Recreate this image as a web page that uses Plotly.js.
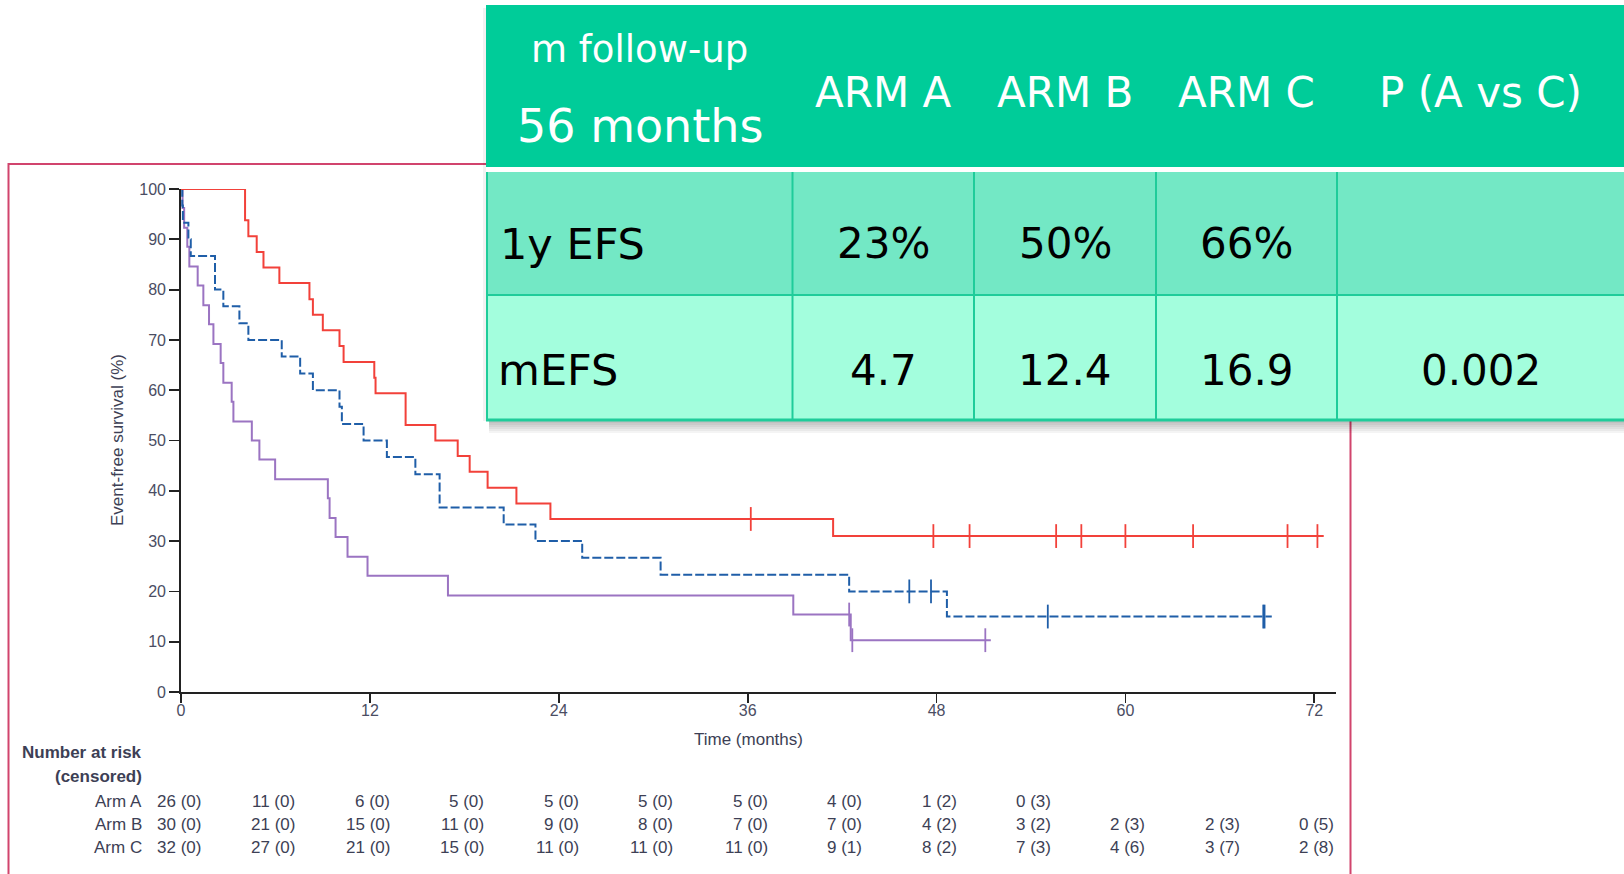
<!DOCTYPE html>
<html><head><meta charset="utf-8">
<script src="https://cdn.plot.ly/plotly-3.0.1.min.js"></script>
<style>html,body{margin:0;padding:0;background:#fff;overflow:hidden}#chart{width:1624px;height:874px}</style>
</head><body><div id="chart"></div>
<script>
// ---------- Kaplan-Meier data ----------
// Arm C (red, solid)
const armC_time = [0, 4.07, 4.28, 4.81, 5.24, 6.25, 8.16, 8.38, 9.01, 10.07, 10.33, 12.28, 12.36, 14.27, 16.16, 17.58, 18.34, 19.48, 21.31, 23.47, 41.43, 72.6];
const armC_efs  = [100, 93.8, 90.6, 87.5, 84.4, 81.3, 78.1, 75.0, 71.9, 68.8, 65.6, 62.5, 59.4, 53.1, 50.0, 46.9, 43.8, 40.6, 37.5, 34.4, 31.0, 31.0];
const armC_censTime = [36.2, 47.8, 50.1, 55.6, 57.2, 60.0, 64.3, 70.3, 72.2];
const armC_censEfs  = [34.4, 31.0, 31.0, 31.0, 31.0, 31.0, 31.0, 31.0, 31.0];
// Arm B (blue, dashed)
const armB_time = [0, 0.08, 0.12, 0.47, 0.62, 2.16, 2.69, 3.71, 4.28, 6.4, 7.57, 8.38, 10.07, 10.22, 11.6, 13.08, 14.89, 16.43, 20.5, 22.52, 25.49, 30.47, 42.45, 48.66, 69.3];
const armB_efs  = [100, 96.7, 93.3, 90.0, 86.7, 80.0, 76.7, 73.3, 70.0, 66.7, 63.3, 60.0, 56.7, 53.3, 50.0, 46.7, 43.3, 36.7, 33.3, 30.0, 26.7, 23.3, 20.0, 15.0, 15.0];
const armB_censTime = [46.27, 47.65, 55.07, 68.76, 68.84];
const armB_censEfs  = [20.0, 20.0, 15.0, 15.0, 15.0];
// Arm A (purple, solid)
const armA_time = [0, 0.1, 0.2, 0.4, 0.53, 1.06, 1.42, 1.78, 2.06, 2.52, 2.69, 3.22, 3.33, 4.5, 4.98, 5.98, 9.33, 9.44, 9.82, 10.58, 11.85, 16.96, 38.9, 42.55, 51.45];
const armA_efs  = [100, 96.2, 92.3, 88.5, 84.6, 80.8, 76.9, 73.1, 69.2, 65.4, 61.5, 57.7, 53.8, 50.0, 46.2, 42.3, 38.5, 34.6, 30.8, 26.9, 23.1, 19.2, 15.4, 10.3, 10.3];
const armA_censTime = [42.45, 42.65, 51.1];
const armA_censEfs  = [15.4, 10.3, 10.3];

// ---------- axis ticks ----------
const xTicks = [0, 12, 24, 36, 48, 60, 72];
const yTicks = [0, 10, 20, 30, 40, 50, 60, 70, 80, 90, 100];

// ---------- number at risk (censored) ----------
const riskTimes = [0, 6, 12, 18, 24, 30, 36, 42, 48, 54, 60, 66, 72];
const riskArms  = ["Arm A", "Arm B", "Arm C"];
const riskA_n = [26, 11, 6, 5, 5, 5, 5, 4, 1, 0];
const riskA_c = [0, 0, 0, 0, 0, 0, 0, 0, 2, 3];
const riskB_n = [30, 21, 15, 11, 9, 8, 7, 7, 4, 3, 2, 2, 0];
const riskB_c = [0, 0, 0, 0, 0, 0, 0, 0, 2, 2, 3, 3, 5];
const riskC_n = [32, 27, 21, 15, 11, 11, 11, 9, 8, 7, 4, 3, 2];
const riskC_c = [0, 0, 0, 0, 0, 0, 0, 1, 2, 3, 6, 7, 8];

// ---------- summary table ----------
const followUpLabel = "m follow-up";
const followUpValue = "56 months";
const tableHeaders = ["ARM A", "ARM B", "ARM C", "P (A vs C)"];
const rowLabels = ["1y EFS", "mEFS"];
const row1y = ["23%", "50%", "66%", ""];
const rowMedian = ["4.7", "12.4", "16.9", "0.002"];

// ---------- layout helpers ----------
const W = 1624, H = 874;
const mL = 181, mR = 288, mT = 189, mB = 182;
const pw = W - mL - mR, ph = H - mT - mB;
const px = X => (X - mL) / pw;
const py = Y => (H - mB - Y) / ph;

const RED = "#f2413a", BLUE = "#1f5ea8", PURPLE = "#9b74c2";
const AXFONT = "Liberation Sans, Arial, sans-serif";
const TFONT = "DejaVu Sans, Verdana, sans-serif";

function kmLine(t, s, color, dash, name) {
  return {x: t, y: s, type: "scatter", mode: "lines", name: name, cliponaxis: false,
          line: {shape: "hv", color: color, width: 2, dash: dash}, hoverinfo: "skip"};
}
function censor(t, s, color) {
  return {x: t, y: s, type: "scatter", mode: "markers", cliponaxis: false, hoverinfo: "skip",
          marker: {symbol: "line-ns", size: 17, color: color, line: {color: color, width: 1.8}}};
}

const traces = [
  kmLine(armA_time, armA_efs, PURPLE, "solid", "Arm A"),
  kmLine(armB_time, armB_efs, BLUE, "9px,3px", "Arm B"),
  kmLine(armC_time, armC_efs, RED, "solid", "Arm C"),
  censor(armA_censTime, armA_censEfs, PURPLE),
  censor(armB_censTime, armB_censEfs, BLUE),
  censor(armC_censTime, armC_censEfs, RED)
];

// ---------- shapes ----------
const shapes = [];
const P = (x0, y0, x1, y1, fill, lineColor, lw) => ({type: "rect", xref: "paper", yref: "paper",
  x0: px(x0), x1: px(x1), y0: py(y0), y1: py(y1), fillcolor: fill,
  line: {width: lw || 0, color: lineColor || "rgba(0,0,0,0)"}, layer: "above"});
const Ln = (x0, y0, x1, y1, color, lw) => ({type: "line", xref: "paper", yref: "paper",
  x0: px(x0), x1: px(x1), y0: py(y0), y1: py(y1), line: {color: color, width: lw}, layer: "above"});

// crimson frame
shapes.push({type: "rect", xref: "paper", yref: "paper", x0: px(8.5), x1: px(1350.5), y0: py(164), y1: py(900),
  line: {color: "#d1446d", width: 2}, fillcolor: "rgba(0,0,0,0)", layer: "below"});
// table shadow
for (let k = 1; k <= 6; k++) {
  shapes.push(P(489, 421, 1624, 421 + k * 2, "rgba(0,0,0,0.045)"));
}
shapes.push(P(483, 8, 486, 421, "rgba(0,0,0,0.05)"));
// table body
shapes.push(P(486, 5, 1624, 167, "#00cc99"));
shapes.push(P(486, 167, 1624, 172, "#ffffff"));
shapes.push(P(486, 172, 1624, 295, "#73e8c5"));
shapes.push(P(486, 295, 1624, 421, "#a3fedd"));
shapes.push(Ln(486, 295, 1624, 295, "#1fcc9a", 2));
shapes.push(Ln(486, 420, 1624, 420, "#1fcc9a", 3));
shapes.push(Ln(487, 172, 487, 421, "#1fcc9a", 2));
const colEdges = [792.5, 974, 1156, 1337, 1624];
for (let i = 0; i < 4; i++) shapes.push(Ln(colEdges[i], 172, colEdges[i], 421, "#1fcc9a", 2));

// ---------- annotations ----------
const ann = [];
const A = (text, X, Y, opt) => Object.assign({text: text, xref: "paper", yref: "paper", x: px(X), y: py(Y),
  showarrow: false, xanchor: "center", yanchor: "middle"}, opt);

// table texts
ann.push(A(followUpLabel, 639, 49, {font: {family: TFONT, size: 37, color: "#ffffff"}}));
ann.push(A(followUpValue, 639.5, 126, {font: {family: TFONT, size: 46, color: "#ffffff"}}));
for (let i = 0; i < 4; i++) {
  const cx = (colEdges[i] + colEdges[i + 1]) / 2;
  ann.push(A(tableHeaders[i], cx, 92, {font: {family: TFONT, size: 42, color: "#ffffff"}}));
  if (row1y[i]) ann.push(A(row1y[i], cx, 244, {font: {family: TFONT, size: 42, color: "#000000"}}));
  ann.push(A(rowMedian[i], cx, 370, {font: {family: TFONT, size: 42, color: "#000000"}}));
}
ann.push(A(rowLabels[0], 498, 244, {xanchor: "left", font: {family: TFONT, size: 43, color: "#000000"}}));
ann.push(A(rowLabels[1], 496, 370, {xanchor: "left", font: {family: TFONT, size: 43, color: "#000000"}}));

// axis titles
ann.push(A("Time (months)", 748, 740, {font: {family: AXFONT, size: 17, color: "#3d3f55"}}));
ann.push(A("Event-free survival (%)", 117, 440, {textangle: -90, font: {family: AXFONT, size: 17, color: "#3d3f55"}}));

// number at risk
ann.push(A("<b>Number at risk</b>", 144, 752, {xanchor: "right", font: {family: AXFONT, size: 17, color: "#3d3f55"}}));
ann.push(A("<b>(censored)</b>", 144, 776, {xanchor: "right", font: {family: AXFONT, size: 17, color: "#3d3f55"}}));
const riskRowsY = [801, 824, 847];
const riskN = [riskA_n, riskB_n, riskC_n];
const riskC = [riskA_c, riskB_c, riskC_c];
for (let r = 0; r < 3; r++) {
  ann.push(A(riskArms[r], 144, riskRowsY[r], {xanchor: "right", font: {family: AXFONT, size: 17, color: "#3d3f55"}}));
  for (let j = 0; j < riskN[r].length; j++) {
    ann.push({text: riskN[r][j] + " (" + riskC[r][j] + ")", xref: "x", yref: "paper",
      x: riskTimes[j], y: py(riskRowsY[r]), xshift: 22, xanchor: "right", yanchor: "middle",
      showarrow: false, font: {family: AXFONT, size: 17, color: "#3d3f55"}});
  }
}

const layout = {
  width: W, height: H, showlegend: false,
  paper_bgcolor: "#ffffff", plot_bgcolor: "rgba(0,0,0,0)",
  margin: {l: mL, r: mR, t: mT, b: mB, pad: 0},
  xaxis: {range: [0, 73.38], tickvals: xTicks, ticktext: xTicks.map(String), showgrid: false, zeroline: false,
          showline: true, linecolor: "#222222", linewidth: 1.8, ticks: "outside", ticklen: 9, tickwidth: 1.8,
          ticklabelstandoff: -6,
          tickcolor: "#222222", tickfont: {family: AXFONT, size: 16, color: "#4a4d63"}, fixedrange: true},
  yaxis: {range: [0, 100], tickvals: yTicks, showgrid: false, zeroline: false,
          showline: true, linecolor: "#222222", linewidth: 1.8, ticks: "outside", ticklen: 10, tickwidth: 1.8,
          tickcolor: "#222222", tickfont: {family: AXFONT, size: 16, color: "#4a4d63"}, fixedrange: true},
  shapes: shapes,
  annotations: ann
};

Plotly.newPlot("chart", traces, layout, {displayModeBar: false, staticPlot: true});
</script></body></html>
